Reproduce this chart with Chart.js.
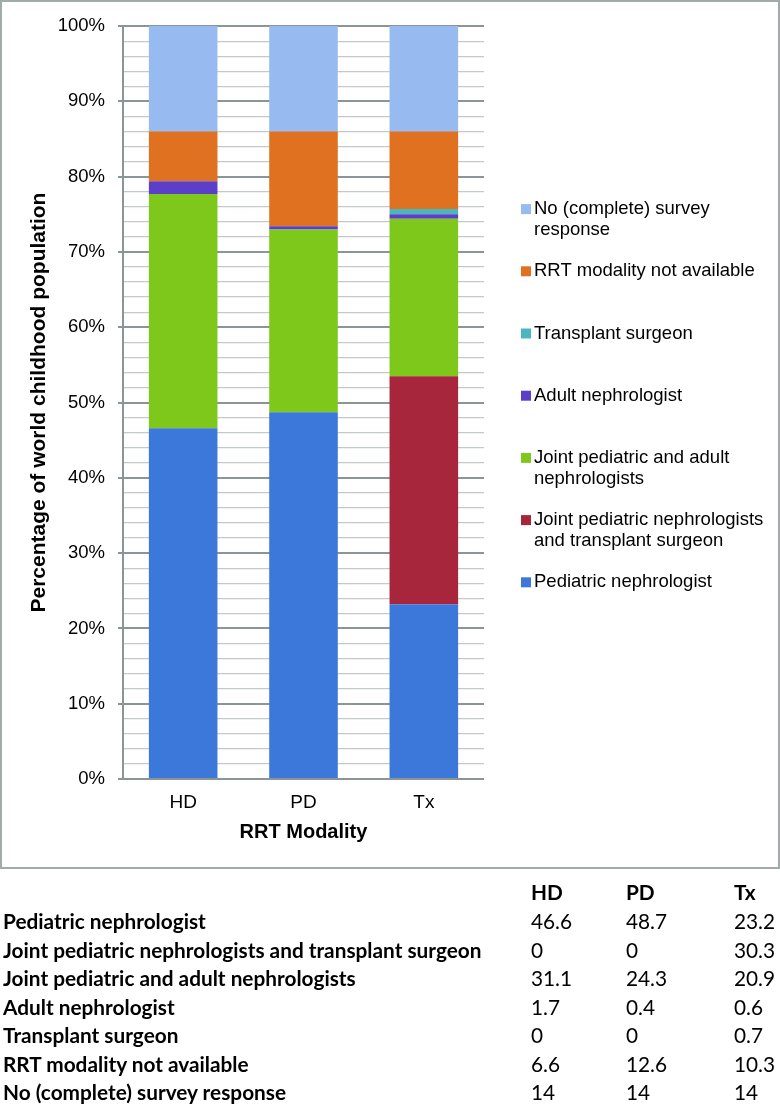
<!DOCTYPE html>
<html>
<head>
<meta charset="utf-8">
<script src="https://cdn.jsdelivr.net/npm/chart.js@4.4.1/dist/chart.umd.min.js"></script>
<style>
  body { margin: 0; background: #fff; width: 780px; height: 1105px; position: relative; overflow: hidden; }
  #box { position: absolute; left: 0; top: 0; width: 780px; height: 869px; box-sizing: border-box; border: 2px solid #a2aaaa; }
  #wrap { position: absolute; left: 0; top: 0; width: 776px; height: 865px; }
  #table { position: absolute; left: 0; top: 0; width: 780px; height: 1105px; font-family: Lato, sans-serif; font-size: 20.8px; color: #000; pointer-events: none; }
  .cell { position: absolute; white-space: nowrap; line-height: 22px; height: 22px; }
  .bold { font-weight: bold; }
</style>
</head>
<body>
<div id="box"><div id="wrap"><canvas id="chart"></canvas></div></div>
<div id="table"></div>
<script>
const categories = ['HD', 'PD', 'Tx'];
const seriesNames = [
  'Pediatric nephrologist',
  'Joint pediatric nephrologists and transplant surgeon',
  'Joint pediatric and adult nephrologists',
  'Adult nephrologist',
  'Transplant surgeon',
  'RRT modality not available',
  'No (complete) survey response'
];
const pediatric = [46.6, 48.7, 23.2];
const jointPedTransplant = [0, 0, 30.3];
const jointPedAdult = [31.1, 24.3, 20.9];
const adult = [1.7, 0.4, 0.6];
const transplant = [0, 0, 0.7];
const notAvailable = [6.6, 12.6, 10.3];
const noResponse = [14, 14, 14];
const yTickLabels = ['0%', '10%', '20%', '30%', '40%', '50%', '60%', '70%', '80%', '90%', '100%'];

const seriesValues = [pediatric, jointPedTransplant, jointPedAdult, adult, transplant, notAvailable, noResponse];
const colors = ['#3b78da', '#a8263c', '#7ec81c', '#5b3fc9', '#4ab7bf', '#e07120', '#97bbf0'];

const axisFont = '"Liberation Sans", Arial, sans-serif';
const majorColor = '#8b9496';
const minorColor = '#c4c9ca';
const isMajor = ctx => ctx.tick && ctx.tick.value % 10 === 0;

// word wrap for the legend on the right
function wrap(ctx, text, maxW) {
  const words = text.split(' ');
  const lines = [];
  let cur = '';
  words.forEach(w => {
    const test = cur ? cur + ' ' + w : w;
    if (ctx.measureText(test).width > maxW && cur) {
      lines.push(cur);
      cur = w;
    } else {
      cur = test;
    }
  });
  lines.push(cur);
  return lines;
}

const sideLegend = {
  id: 'sideLegend',
  afterDraw(chart) {
    const ctx = chart.ctx;
    const area = chart.chartArea;
    const x0 = area.right + 37;
    ctx.save();
    ctx.font = '18.5px ' + axisFont;
    ctx.textBaseline = 'middle';
    const items = chart.data.datasets.slice().reverse();
    items.forEach((ds, i) => {
      const y = area.top + 183 + i * 62.2;
      ctx.fillStyle = ds.backgroundColor;
      ctx.fillRect(x0, y - 5, 10, 10);
      ctx.fillStyle = '#000';
      wrap(ctx, ds.label, 240).forEach((line, j) => ctx.fillText(line, x0 + 13, y + j * 21));
    });
    ctx.restore();
  }
};

new Chart(document.getElementById('chart'), {
  type: 'bar',
  data: {
    labels: categories,
    datasets: seriesNames.map((name, i) => ({
      label: name,
      data: seriesValues[i],
      backgroundColor: colors[i],
      borderWidth: 0,
      barPercentage: 0.57,
      categoryPercentage: 1
    }))
  },
  options: {
    responsive: true,
    maintainAspectRatio: false,
    animation: false,
    layout: { padding: { left: 0, right: 294, top: 22, bottom: 0 } },
    plugins: {
      legend: { display: false },
      tooltip: { enabled: false }
    },
    scales: {
      x: {
        stacked: true,
        grid: { display: false, drawTicks: false },
        border: { display: false },
        ticks: { color: '#000', font: { family: axisFont, size: 19 }, padding: 12 },
        title: {
          display: true,
          text: 'RRT Modality',
          color: '#000',
          font: { family: axisFont, size: 20, weight: 'bold' },
          padding: { top: 0, bottom: 23 }
        },
        afterFit: s => { s.height = 88; }
      },
      y: {
        stacked: true,
        min: 0,
        max: 100,
        ticks: {
          stepSize: 2,
          autoSkip: false,
          color: '#000',
          padding: 13,
          font: { family: axisFont, size: 18.5 },
          callback: v => (v % 10 === 0 ? yTickLabels[v / 10] : '')
        },
        grid: {
          color: ctx => (isMajor(ctx) ? majorColor : minorColor),
          lineWidth: ctx => (isMajor(ctx) ? 2 : 1.3),
          tickColor: ctx => (isMajor(ctx) ? majorColor : 'rgba(0,0,0,0)'),
          tickLength: 5
        },
        border: { color: majorColor, width: 2 },
        title: {
          display: true,
          text: 'Percentage of world childhood population',
          color: '#000',
          font: { family: axisFont, size: 21, weight: 'bold' },
          padding: { top: 25, bottom: 0 }
        },
        afterFit: s => { s.width = 121; }
      }
    }
  },
  plugins: [sideLegend]
});

// data table under the chart
const table = document.getElementById('table');
const colX = [531, 626, 734];
function cell(text, x, yc, bold) {
  const d = document.createElement('div');
  d.className = 'cell' + (bold ? ' bold' : '');
  d.style.left = x + 'px';
  d.style.top = (yc - 11) + 'px';
  d.textContent = text;
  table.appendChild(d);
}
categories.forEach((c, j) => cell(c, colX[j], 892, true));
seriesNames.forEach((name, i) => {
  const yc = 921 + i * 28.5;
  cell(name, 3, yc, true);
  seriesValues[i].forEach((v, j) => cell(String(v), colX[j], yc, false));
});
</script>
</body>
</html>
